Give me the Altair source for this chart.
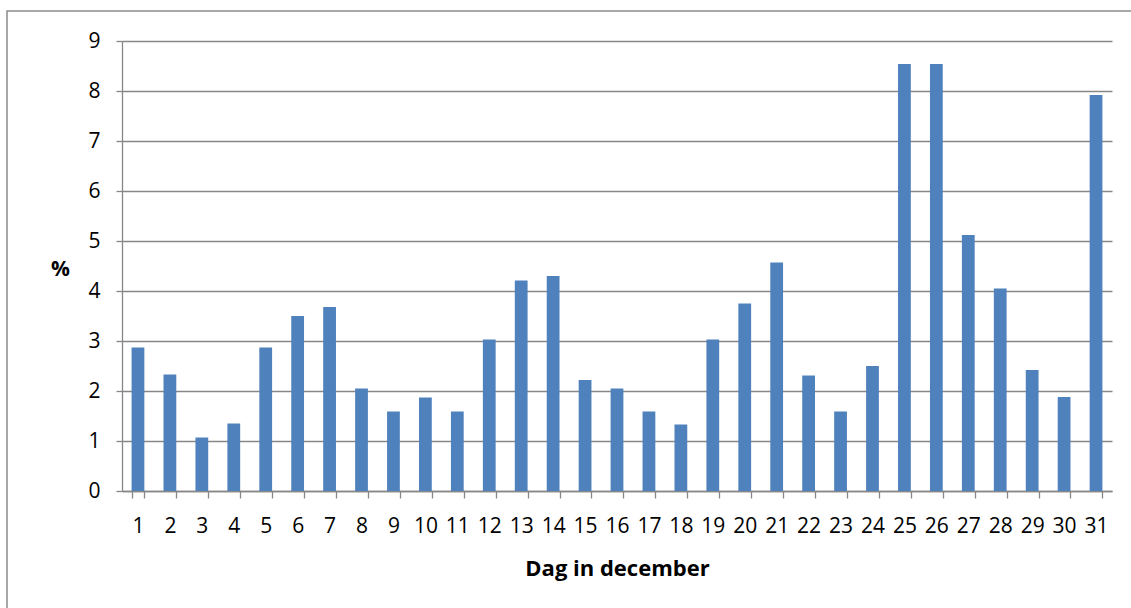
import altair as alt
import pandas as pd

# Share per day of December (%)
days = [str(d) for d in range(1, 32)]
percent = [
    2.87, 2.33, 1.07, 1.35, 2.87, 3.50, 3.68, 2.05, 1.59, 1.87,
    1.59, 3.03, 4.21, 4.30, 2.22, 2.05, 1.59, 1.33, 3.03, 3.75,
    4.57, 2.31, 1.59, 2.50, 8.54, 8.54, 5.12, 4.05, 2.42, 1.88,
    7.92,
]
y_ticks = list(range(0, 10))

df = pd.DataFrame({"dag": days, "pct": percent})

FONT = "Open Sans"
GRID = "#878787"
BAR = "#4F81BD"

bars = alt.Chart(df).mark_bar(color=BAR).encode(
    x=alt.X(
        "dag:N",
        sort=days,
        scale=alt.Scale(paddingInner=0.6, paddingOuter=0.3),
        axis=alt.Axis(
            title="Dag in december",
            labelAngle=0,
            labelFont=FONT,
            labelFontSize=21,
            labelColor="#000000",
            labelPadding=17,
            tickBand="extent",
            tickSize=7,
            tickColor=GRID,
            tickWidth=1.3,
            domainColor=GRID,
            domainWidth=1.3,
            grid=False,
            titleFont=FONT,
            titleFontSize=22,
            titleFontWeight="bold",
            titleColor="#000000",
            titleBaseline="alphabetic",
            titleX=495,
            titleY=84,
            titleAnchor="middle",
        ),
    ),
    y=alt.Y(
        "pct:Q",
        scale=alt.Scale(domain=[0, 9], nice=False),
        axis=alt.Axis(
            title="%",
            values=y_ticks,
            format="d",
            labelFont=FONT,
            labelFontSize=21,
            labelColor="#000000",
            labelPadding=16,
            tickSize=6,
            tickColor=GRID,
            tickWidth=1.3,
            domainColor=GRID,
            domainWidth=1.3,
            grid=True,
            gridColor=GRID,
            gridWidth=1.3,
            titleFont=FONT,
            titleFontSize=21,
            titleFontWeight="bold",
            titleColor="#000000",
            titleAngle=0,
            titleAlign="center",
            titleBaseline="middle",
            titleX=-62,
            titleY=228,
        ),
    ),
)

# Outer chart frame
frame = alt.Chart(pd.DataFrame({"k": [0]})).mark_rect(
    fill=None, stroke="#8c8c8c", strokeWidth=1.5
).encode(
    x=alt.value(-115),
    x2=alt.value(1100),
    y=alt.value(-30),
    y2=alt.value(700),
)

chart = (
    alt.layer(frame, bars)
    .properties(
        width=990,
        height=450,
        autosize=alt.AutoSizeParams(type="none"),
        padding={"left": 122, "top": 41, "right": 19, "bottom": 117},
        background="#ffffff",
    )
    .configure_view(stroke=None)
)

chart.save("out.html", embed_options={"renderer": "svg", "actions": False})
